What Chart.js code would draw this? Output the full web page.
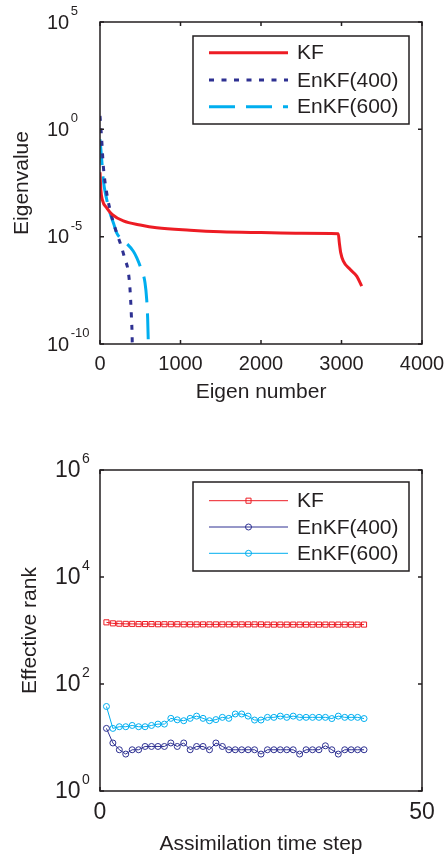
<!DOCTYPE html>
<html>
<head>
<meta charset="utf-8">
<script src="https://cdn.jsdelivr.net/npm/chart.js@4"></script>
<style>
  html, body { margin: 0; padding: 0; background: #fff; }
  #wrap { position: relative; width: 445px; height: 856px; overflow: hidden; }
  canvas { position: absolute; left: 0; }
  #top { top: 0; }
  #bottom { top: 428px; }
</style>
</head>
<body>
<div id="wrap">
  <canvas id="top" width="445" height="428"></canvas>
  <canvas id="bottom" width="445" height="428"></canvas>
</div>
<script>
// ---- top panel: eigen spectrum ----
const kfX   = [0, 10, 30, 83, 150, 290, 500, 704, 1118, 1500, 2000, 2500, 2960, 2973, 2990, 3023, 3106, 3189, 3251];
const kfY   = [1e-2, 1.6e-3, 5e-4, 2.2e-4, 1.1e-4, 5.4e-5, 3.5e-5, 2.6e-5, 2.0e-5, 1.7e-5, 1.55e-5, 1.45e-5, 1.38e-5, 5.2e-6, 1.8e-6, 7.2e-7, 3e-7, 1.45e-7, 5e-8];
const en4X  = [0, 21, 41, 83, 145, 207, 260, 311, 350, 373, 390, 399, 403];
const en4Y  = [4.2, 0.34, 2e-2, 1.1e-3, 9e-5, 1.5e-5, 4e-6, 8.7e-7, 2.5e-7, 3.5e-8, 2e-9, 2.5e-10, 3e-11];
const en6X  = [0, 21, 40, 83, 124, 170, 207, 300, 414, 456, 510, 559, 580, 592, 600, 604];
const en6Y  = [0.34, 4e-2, 4.7e-3, 5.5e-4, 1.3e-4, 4e-5, 1.5e-5, 6.3e-6, 2.1e-6, 1.05e-6, 3.2e-7, 7.2e-8, 1.2e-8, 1.6e-9, 1.1e-10, 1e-11];
const topXTicks = [0, 1000, 2000, 3000, 4000];
const topYTicks = [1e-10, 1e-5, 1, 1e5];
const topYExp   = ['-10', '-5', '0', '5'];

// ---- bottom panel: effective rank per step ----
const steps = [1,2,3,4,5,6,7,8,9,10,11,12,13,14,15,16,17,18,19,20,21,22,23,24,25,26,27,28,29,30,31,32,33,34,35,36,37,38,39,40,41];
const rankKF = [1420,1360,1340,1330,1330,1320,1320,1320,1310,1310,1310,1310,1300,1300,1300,1300,1300,1300,1300,1300,
                1300,1300,1300,1300,1300,1290,1290,1290,1290,1290,1290,1290,1290,1290,1290,1290,1290,1290,1290,1290,1290];
const rank400 = [14.8,7.9,5.9,4.9,5.9,5.9,6.8,6.8,6.8,6.8,7.9,6.8,7.9,5.9,6.8,6.8,5.9,7.9,6.8,5.9,
                 5.9,5.9,5.9,5.9,4.9,5.9,5.9,5.9,5.9,5.9,4.9,5.9,5.9,5.9,7.0,5.9,4.9,5.9,5.9,5.9,5.9];
const rank600 = [38,14.8,15.9,15.9,16.8,15.9,15.9,16.8,17.8,17.8,22.8,21.4,20.6,22.8,25.1,22.8,20.6,21.6,23.8,22.8,
                 27.5,27.5,25.1,21.2,21.2,23.8,23.8,25.1,23.8,25.1,23.8,23.8,23.8,23.8,23.8,22.6,25.1,23.8,23.8,23.8,22.6];
const botXTicks = [0, 50];
const botYTicks = [1, 1e2, 1e4, 1e6];
const botYExp   = ['0', '2', '4', '6'];

const labels = ['KF', 'EnKF(400)', 'EnKF(600)'];

const INK = '#231F20';
const RED = '#ED1C24', NAVY = '#2E3192', CYAN = '#00AEEF';
const FONT = '"Liberation Sans", Arial, sans-serif';

const pts = (xs, ys) => xs.map((x, i) => ({ x, y: ys[i] }));

// MATLAB-ish axes: frame, inward ticks, 10^n labels, titles, legend
function axesPlugin(cfg) {
  return {
    id: 'matlabAxes',
    afterDraw(chart) {
      const { ctx, chartArea: a, scales: { x, y } } = chart;
      ctx.save();
      ctx.strokeStyle = INK;
      ctx.fillStyle = INK;
      ctx.lineWidth = 1.5;
      ctx.strokeRect(a.left, a.top, a.right - a.left, a.bottom - a.top);

      ctx.beginPath();
      cfg.xTicks.forEach(v => {
        const p = x.getPixelForValue(v);
        ctx.moveTo(p, a.bottom); ctx.lineTo(p, a.bottom - 4);
        ctx.moveTo(p, a.top);    ctx.lineTo(p, a.top + 4);
      });
      cfg.yTicks.forEach(v => {
        const p = y.getPixelForValue(v);
        ctx.moveTo(a.left, p);  ctx.lineTo(a.left + 4, p);
        ctx.moveTo(a.right, p); ctx.lineTo(a.right - 4, p);
      });
      ctx.stroke();

      // x tick labels
      ctx.font = cfg.tickFont + 'px ' + FONT;
      ctx.textAlign = 'center';
      ctx.textBaseline = 'middle';
      cfg.xTicks.forEach(v => ctx.fillText(String(v), x.getPixelForValue(v), a.bottom + cfg.xLabelGap));

      // y tick labels, 10 with exponent
      cfg.yTicks.forEach((v, i) => {
        const p = y.getPixelForValue(v);
        ctx.font = cfg.tickFont + 'px ' + FONT;
        ctx.textAlign = 'left';
        ctx.textBaseline = 'middle';
        ctx.fillText('10', cfg.yLabelX, p + 1);
        const w = ctx.measureText('10').width;
        ctx.font = cfg.expFont + 'px ' + FONT;
        ctx.textBaseline = 'alphabetic';
        ctx.fillText(cfg.yExp[i], cfg.yLabelX + w + 1.5, p - 7);
      });

      // axis titles
      ctx.font = '21px ' + FONT;
      ctx.textAlign = 'center';
      ctx.textBaseline = 'alphabetic';
      ctx.fillText(cfg.xTitle, (a.left + a.right) / 2, cfg.xTitleY);
      ctx.save();
      ctx.translate(cfg.yTitleX, (a.top + a.bottom) / 2);
      ctx.rotate(-Math.PI / 2);
      ctx.fillText(cfg.yTitle, 0, 0);
      ctx.restore();

      // legend
      const L = cfg.legend;
      ctx.fillStyle = '#fff';
      ctx.fillRect(L.x1, L.y1, L.x2 - L.x1, L.y2 - L.y1);
      ctx.strokeStyle = INK;
      ctx.lineWidth = 1.5;
      ctx.strokeRect(L.x1, L.y1, L.x2 - L.x1, L.y2 - L.y1);
      chart.data.datasets.forEach((ds, i) => {
        const ry = L.rows[i];
        ctx.save();
        ctx.strokeStyle = ds.borderColor;
        ctx.lineWidth = ds.borderWidth;
        ctx.lineCap = 'butt';
        ctx.setLineDash(ds.borderDash || []);
        ctx.beginPath();
        ctx.moveTo(L.lx1, ry); ctx.lineTo(L.lx2, ry);
        ctx.stroke();
        ctx.setLineDash([]);
        if (ds.pointRadius) {
          const mx = (L.lx1 + L.lx2) / 2;
          ctx.lineWidth = ds.pointBorderWidth;
          ctx.beginPath();
          if (ds.pointStyle === 'rect') {
            const s = ds.pointRadius * Math.SQRT1_2;
            ctx.rect(mx - s, ry - s, 2 * s, 2 * s);
          } else {
            ctx.arc(mx, ry, ds.pointRadius, 0, Math.PI * 2);
          }
          ctx.stroke();
        }
        ctx.restore();
        ctx.fillStyle = INK;
        ctx.font = '21px ' + FONT;
        ctx.textAlign = 'left';
        ctx.textBaseline = 'middle';
        ctx.fillText(ds.label, L.tx, ry + 1);
      });
      ctx.restore();
    }
  };
}

function baseOptions(pad, xr, yr) {
  return {
    responsive: false,
    animation: false,
    events: [],
    layout: { padding: pad },
    plugins: { legend: { display: false }, tooltip: { enabled: false } },
    scales: {
      x: { type: 'linear', min: xr[0], max: xr[1], display: false },
      y: { type: 'logarithmic', min: yr[0], max: yr[1], display: false }
    }
  };
}

new Chart(document.getElementById('top'), {
  type: 'line',
  data: {
    datasets: [
      { label: labels[0], data: pts(kfX, kfY), borderColor: RED, borderWidth: 3,
        cubicInterpolationMode: 'monotone', pointRadius: 0, fill: false },
      { label: labels[1], data: pts(en4X, en4Y), borderColor: NAVY, borderWidth: 3, borderDash: [5, 7.5],
        borderCapStyle: 'butt', cubicInterpolationMode: 'monotone', pointRadius: 0, fill: false },
      { label: labels[2], data: pts(en6X, en6Y), borderColor: CYAN, borderWidth: 3, borderDash: [26, 11],
        borderCapStyle: 'butt', cubicInterpolationMode: 'monotone', pointRadius: 0, fill: false }
    ]
  },
  options: baseOptions({ left: 100, top: 22, right: 23, bottom: 84 }, [0, 4000], [1e-10, 1e5]),
  plugins: [axesPlugin({
    xTicks: topXTicks, yTicks: topYTicks, yExp: topYExp,
    tickFont: 20, expFont: 13, yLabelX: 47, xLabelGap: 20,
    xTitle: 'Eigen number', xTitleY: 398, yTitle: 'Eigenvalue', yTitleX: 28,
    legend: { x1: 193, y1: 36, x2: 409, y2: 124, rows: [52.7, 80, 106.7], lx1: 209, lx2: 288, tx: 297 }
  })]
});

new Chart(document.getElementById('bottom'), {
  type: 'line',
  data: {
    datasets: [
      { label: labels[0], data: pts(steps, rankKF), borderColor: RED, borderWidth: 1,
        pointStyle: 'rect', pointRadius: 3.6, pointBorderWidth: 1, pointBorderColor: RED,
        pointBackgroundColor: 'rgba(0,0,0,0)', tension: 0, fill: false },
      { label: labels[1], data: pts(steps, rank400), borderColor: NAVY, borderWidth: 1,
        pointStyle: 'circle', pointRadius: 3, pointBorderWidth: 1, pointBorderColor: NAVY,
        pointBackgroundColor: 'rgba(0,0,0,0)', tension: 0, fill: false },
      { label: labels[2], data: pts(steps, rank600), borderColor: CYAN, borderWidth: 1,
        pointStyle: 'circle', pointRadius: 3, pointBorderWidth: 1, pointBorderColor: CYAN,
        pointBackgroundColor: 'rgba(0,0,0,0)', tension: 0, fill: false }
    ]
  },
  options: baseOptions({ left: 100, top: 42, right: 23, bottom: 65 }, [0, 50], [1, 1e6]),
  plugins: [axesPlugin({
    xTicks: botXTicks, yTicks: botYTicks, yExp: botYExp,
    tickFont: 23, expFont: 14, yLabelX: 55, xLabelGap: 22,
    xTitle: 'Assimilation time step', xTitleY: 422, yTitle: 'Effective rank', yTitleX: 36,
    legend: { x1: 193, y1: 54, x2: 409, y2: 143, rows: [72.7, 99, 125.3], lx1: 209, lx2: 288, tx: 297 }
  })]
});
</script>
</body>
</html>
